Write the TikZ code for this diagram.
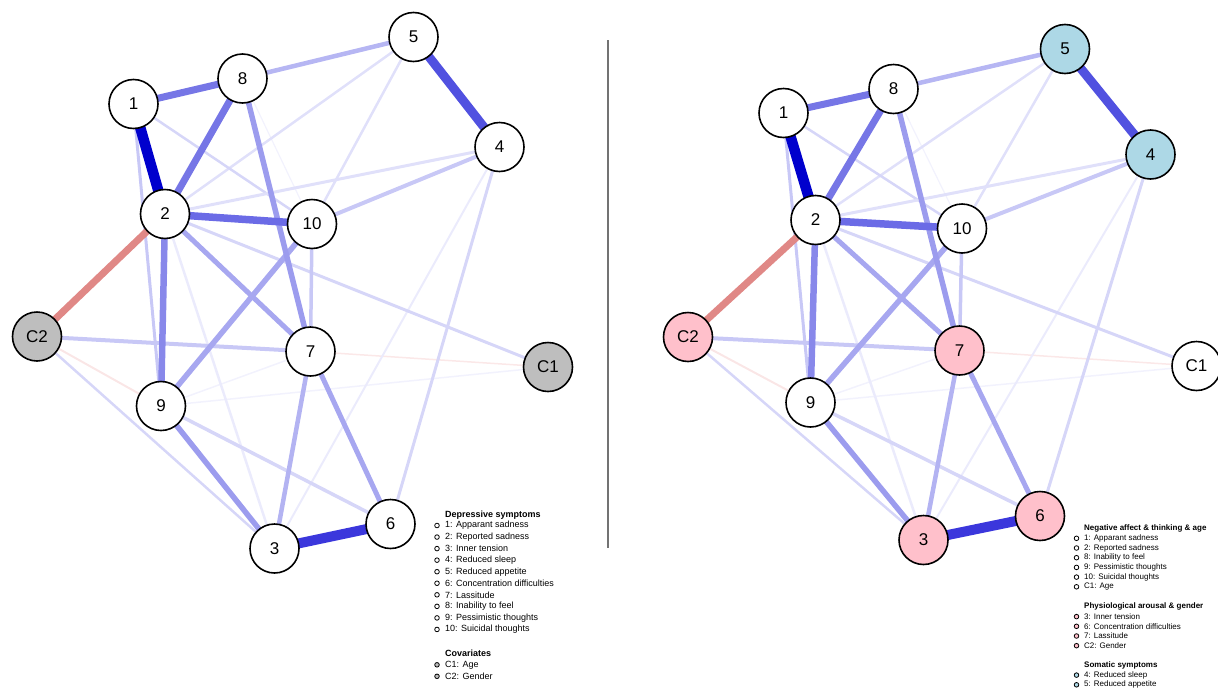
\documentclass[tikz,border=0pt]{standalone}
\usepackage{fontspec}
\setmainfont{Liberation Sans}
\usetikzlibrary{backgrounds}
\definecolor{cA}{HTML}{0000CD}
\definecolor{cB}{HTML}{3B37DC}
\definecolor{cC}{HTML}{5151E0}
\definecolor{cD}{HTML}{7676E6}
\definecolor{cE}{HTML}{6B6BE6}
\definecolor{cF}{HTML}{8888EA}
\definecolor{cG}{HTML}{9C9CEE}
\definecolor{cH}{HTML}{A7A7F0}
\definecolor{cI}{HTML}{B6B6F3}
\definecolor{cJ}{HTML}{C8C8F6}
\definecolor{cK}{HTML}{D6D6F8}
\definecolor{cL}{HTML}{E0E0FA}
\definecolor{cM}{HTML}{EBEBFC}
\definecolor{cN}{HTML}{F2F2FD}
\definecolor{cR}{HTML}{E08886}
\definecolor{cS}{HTML}{FAE6E6}
\definecolor{cT}{HTML}{FBE8E8}
\definecolor{nodegray}{HTML}{BEBEBE}
\definecolor{nodepink}{HTML}{FFC0CB}
\definecolor{nodeblue}{HTML}{ADD8E6}
\tikzset{
  x=1pt, y=-1pt,
  netnode/.style={circle, draw=black, line width=1.6pt, minimum size=49pt, inner sep=0pt, fill=white, font=\fontsize{17}{19}\selectfont},
  gnode/.style={netnode, fill=nodegray},
  pnode/.style={netnode, fill=nodepink},
  bnode/.style={netnode, fill=nodeblue},
  ed/.style 2 args={draw=#1, line width=#2pt},
  legL/.style={anchor=west, inner sep=0pt, font=\fontsize{9}{10}\selectfont},
  legR/.style={anchor=west, inner sep=0pt, font=\fontsize{8}{9}\selectfont},
  bul/.style={circle, draw=black, line width=0.8pt, minimum size=4.6pt, inner sep=0pt, fill=white},
  bulg/.style={bul, fill=nodegray},
  bulp/.style={bul, fill=nodepink},
  bulb/.style={bul, fill=nodeblue},
  divider/.style={draw=black!55, line width=1.3pt}
}
\begin{document}
\begin{tikzpicture}
\useasboundingbox (0,0) rectangle (1218,691);
% left network nodes
\node[netnode] (L1) at (133.5,104) {1};
\node[netnode] (L8) at (242.5,78.5) {8};
\node[netnode] (L5) at (413.5,37) {5};
\node[netnode] (L4) at (499.5,147) {4};
\node[netnode] (L2) at (165,214) {2};
\node[netnode] (L10) at (312,224) {10};
\node[gnode] (LC2) at (37,336.5) {C2};
\node[netnode] (L7) at (310.5,351.5) {7};
\node[gnode] (LC1) at (548,367) {C1};
\node[netnode] (L9) at (161,406) {9};
\node[netnode] (L3) at (274.5,548.5) {3};
\node[netnode] (L6) at (390.5,524) {6};
% right network nodes
\node[netnode] (R1) at (783.5,113) {1};
\node[netnode] (R8) at (893.5,89) {8};
\node[bnode] (R5) at (1065,49) {5};
\node[bnode] (R4) at (1150.5,154.5) {4};
\node[netnode] (R2) at (815.5,220) {2};
\node[netnode] (R10) at (962,228.5) {10};
\node[pnode] (RC2) at (688,337) {C2};
\node[pnode] (R7) at (959.5,350.5) {7};
\node[netnode] (RC1) at (1196.5,366) {C1};
\node[netnode] (R9) at (810.5,402.5) {9};
\node[pnode] (R3) at (923.5,540) {3};
\node[pnode] (R6) at (1040,516) {6};
% edges
\begin{scope}[on background layer]
\foreach \p in {L,R}{
  \draw[ed={cN}{1.2}] (\p8.center) -- (\p10.center);
  \draw[ed={cN}{1.5}] (\p9.center) -- (\p7.center);
  \draw[ed={cN}{1.5}] (\p9.center) -- (\p C1.center);
  \draw[ed={cT}{1.5}] (\p7.center) -- (\p C1.center);
  \draw[ed={cS}{2}] (\p C2.center) -- (\p9.center);
  \draw[ed={cM}{2}] (\p4.center) -- (\p3.center);
  \draw[ed={cM}{2.5}] (\p2.center) -- (\p3.center);
  \draw[ed={cL}{2.5}] (\p2.center) -- (\p5.center);
  \draw[ed={cL}{2.5}] (\p5.center) -- (\p10.center);
  \draw[ed={cK}{2.5}] (\p1.center) -- (\p10.center);
  \draw[ed={cK}{2.5}] (\p C2.center) -- (\p3.center);
  \draw[ed={cL}{3}] (\p2.center) -- (\p4.center);
  \draw[ed={cK}{3}] (\p2.center) -- (\p C1.center);
  \draw[ed={cK}{3}] (\p4.center) -- (\p6.center);
  \draw[ed={cK}{3.5}] (\p9.center) -- (\p6.center);
  \draw[ed={cJ}{3}] (\p1.center) -- (\p9.center);
  \draw[ed={cJ}{3.5}] (\p10.center) -- (\p7.center);
  \draw[ed={cJ}{4}] (\p10.center) -- (\p4.center);
  \draw[ed={cJ}{4}] (\p C2.center) -- (\p7.center);
  \draw[ed={cI}{4.5}] (\p8.center) -- (\p5.center);
  \draw[ed={cI!80!cH}{4.5}] (\p7.center) -- (\p3.center);
  \draw[ed={cH}{5}] (\p7.center) -- (\p6.center);
  \draw[ed={cH}{5}] (\p2.center) -- (\p7.center);
  \draw[ed={cH}{5.5}] (\p9.center) -- (\p10.center);
  \draw[ed={cG}{5.5}] (\p9.center) -- (\p3.center);
  \draw[ed={cG}{5.5}] (\p8.center) -- (\p7.center);
  \draw[ed={cR}{7}] (\p2.center) -- (\p C2.center);
  \draw[ed={cF}{6.5}] (\p2.center) -- (\p9.center);
  \draw[ed={cD}{7}] (\p8.center) -- (\p2.center);
  \draw[ed={cD}{7}] (\p1.center) -- (\p8.center);
  \draw[ed={cE}{7.5}] (\p2.center) -- (\p10.center);
  \draw[ed={cC}{9}] (\p5.center) -- (\p4.center);
  \draw[ed={cB}{10}] (\p3.center) -- (\p6.center);
  \draw[ed={cA}{10.5}] (\p1.center) -- (\p2.center);
}
\end{scope}
% divider
\coordinate (dtop) at (608,40);
\coordinate (dbot) at (608,548);
\draw[divider] (dtop) -- (dbot);
% left legend
\node[legL] (lh1) at (445,515) {\textbf{Depressive symptoms}};
\foreach \i/\t [count=\k from 0] in {1/1: Apparant sadness, 2/2: Reported sadness, 3/3: Inner tension, 4/4: Reduced sleep, 5/5: Reduced appetite, 6/6: Concentration difficulties, 7/7: Lassitude, 8/8: Inability to feel, 9/9: Pessimistic thoughts, 10/10: Suicidal thoughts}{
  \node[bul] (lb\i) at (437,525.5+11.55*\k) {};
  \node[legL] (lt\i) at (445,525.5+11.55*\k) {\t};
}
\node[legL] (lh2) at (445,653.3) {\textbf{Covariates}};
\node[bulg] (lbC1) at (437,664.8) {};
\node[legL] (ltC1) at (445,664.8) {C1: Age};
\node[bulg] (lbC2) at (437,676.3) {};
\node[legL] (ltC2) at (445,676.3) {C2: Gender};
% right legend
\node[legR] (rh1) at (1084,528.5) {\textbf{Negative affect \& thinking \& age}};
\foreach \i/\t [count=\k from 0] in {1/1: Apparant sadness, 2/2: Reported sadness, 8/8: Inability to feel, 9/9: Pessimistic thoughts, 10/10: Suicidal thoughts, C1/C1: Age}{
  \node[bul] (rb\i) at (1076.5,538.3+9.7*\k) {};
  \node[legR] (rt\i) at (1084,538.3+9.7*\k) {\t};
}
\node[legR] (rh2) at (1084,606.8) {\textbf{Physiological arousal \& gender}};
\foreach \i/\t [count=\k from 0] in {3/3: Inner tension, 6/6: Concentration difficulties, 7/7: Lassitude, C2/C2: Gender}{
  \node[bulp] (rb\i) at (1076.5,616.6+9.7*\k) {};
  \node[legR] (rt\i) at (1084,616.6+9.7*\k) {\t};
}
\node[legR] (rh3) at (1084,665.3) {\textbf{Somatic symptoms}};
\node[bulb] (rb4) at (1076.5,675.1) {};
\node[legR] (rt4) at (1084,675.1) {4: Reduced sleep};
\node[bulb] (rb5) at (1076.5,684.8) {};
\node[legR] (rt5) at (1084,684.8) {5: Reduced appetite};
\end{tikzpicture}
\end{document}
